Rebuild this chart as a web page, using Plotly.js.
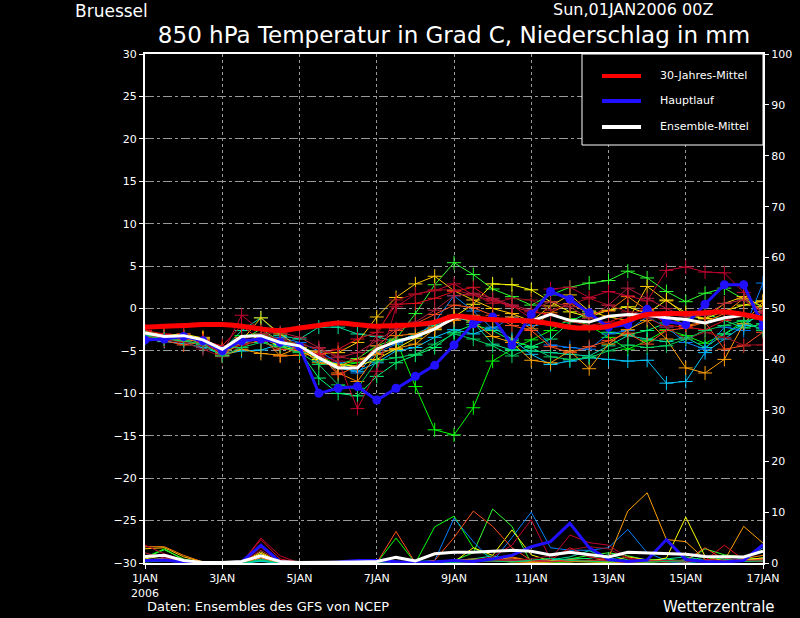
<!DOCTYPE html>
<html><head><meta charset="utf-8">
<script src="https://cdn.plot.ly/plotly-3.0.1.min.js"></script>
<style>html,body{margin:0;padding:0;background:#000;}#chart{width:800px;height:618px;}</style>
</head><body><div id="chart"></div>
<script>
// forecast steps: 1 JAN 2006 00Z + 12h steps (in days)
const steps = [0,0.5,1,1.5,2,2.5,3,3.5,4,4.5,5,5.5,6,6.5,7,7.5,8,8.5,9,9.5,10,10.5,11,11.5,12,12.5,13,13.5,14,14.5,15,15.5,16];
const tickVals = [0,2,4,6,8,10,12,14,16];
const tickText = ["1JAN<br>2006","3JAN","5JAN","7JAN","9JAN","11JAN","13JAN","15JAN","17JAN"];
const legendNames = ["30-Jahres-Mittel","Hauptlauf","Ensemble-Mittel"];
const legendColors = ["#ff0000","#2010ff","#ffffff"];

// 30-year climatology (temperature)
const climTemp = [-2.2,-2.1,-2.0,-1.9,-1.9,-2.1,-2.4,-2.6,-2.3,-2.0,-1.7,-1.9,-2.1,-2.0,-1.9,-1.6,-0.9,-1.1,-1.3,-1.4,-1.5,-1.8,-2.2,-2.3,-2.1,-1.4,-0.7,-0.6,-0.6,-0.5,-0.4,-0.7,-1.2];
// main run (Hauptlauf)
const mainTemp = [-3.7,-3.6,-3.3,-3.8,-5.0,-3.8,-3.6,-4.0,-4.5,-10.0,-9.4,-9.2,-10.8,-9.4,-8.0,-6.7,-4.3,-1.8,-1.0,-4.3,-0.7,2.0,1.1,-0.5,-2.2,-1.9,-0.1,-1.5,-1.9,0.5,2.8,2.8,-2.1];
const mainPrec = [0.5,0.6,0.2,0,0,0.2,3.5,0.2,0,0,0.2,0.5,0.5,0.3,0,0.2,0.5,0.3,0.8,1.5,3.2,4.2,7.8,3.0,0.7,0.3,0.6,4.6,0.7,0.3,0.2,0.5,3.6];
// ensemble mean
const meanTemp = [-2.9,-3.3,-3.2,-3.7,-4.8,-3.3,-3.2,-4.0,-4.4,-5.8,-7.0,-7.0,-4.8,-3.9,-3.3,-2.4,-1.1,-1.1,-1.3,-1.4,-1.5,-0.7,-1.4,-1.6,-0.9,-0.7,-0.8,-1.1,-1.3,-1.7,-1.1,-0.8,-1.1];
const meanPrec = [1.3,1.5,0.5,0.1,0.1,0.3,1.4,0.3,0.1,0.1,0.2,0.2,0.3,1.1,0.4,1.8,2.1,2.1,2.3,2.5,2.3,1.6,2.1,1.7,1.2,2.1,2.0,1.8,1.7,1.3,1.2,1.2,2.3];

// ensemble members
const memberColors = ["#00ff00","#30ff30","#00ff70","#00e0a0","#00c8ff","#0080ff","#ffff00","#ffc800","#ffa000","#ff8000","#ff5020","#e01020","#c00030","#a01020","#b02040","#00d060"];
const memberTemps = [
 [-2.9,-3.3,-3.6,-3.9,-5.3,-3.2,-3.0,-3.6,-4.4,-5.4,-6.8,-6.4,-4.9,-3.7,-9.2,-14.3,-14.9,-11.7,-6.2,-4.8,-3.7,-2.6,-1.2,-2.0,-3.4,-4.8,-3.8,-2.5,-3.2,-4.1,-3.0,-1.5,-1.0],
 [-2.7,-3.1,-3.4,-4.2,-5.5,-3.8,-2.4,-3.9,-4.6,-6.0,-6.6,-5.9,-4.4,-3.6,-0.6,2.8,5.4,4.0,2.3,1.4,0.4,1.6,2.5,3.0,3.3,4.4,3.6,2.0,0.8,1.8,2.4,1.1,0.2],
 [-3.2,-3.5,-3.9,-4.3,-5.5,-4.0,-3.6,-4.2,-5.0,-8.2,-10.0,-10.3,-8.0,-6.4,-5.5,-4.6,-2.8,-1.9,-2.6,-3.8,-4.5,-3.6,-1.6,-0.4,-2.8,-3.1,-2.6,-1.7,-1.2,-0.6,-1.4,-2.3,-1.8],
 [-3.0,-3.4,-3.3,-4.0,-5.0,-2.6,-1.1,-3.2,-3.6,-2.2,-2.2,-3.0,-3.3,-4.0,-3.0,-2.0,-1.0,-1.6,-4.2,-4.9,-5.0,-5.2,-5.4,-5.6,-4.4,-3.2,-3.6,-3.9,-3.4,-4.6,-3.0,-1.8,-2.4],
 [-3.5,-3.9,-4.1,-4.6,-5.4,-5.0,-4.9,-4.2,-4.8,-6.2,-7.0,-7.4,-6.4,-5.0,-4.6,-3.4,-2.5,-3.0,-2.2,-3.6,-5.4,-6.6,-6.2,-5.8,-6.0,-6.2,-6.1,-8.8,-8.6,-5.2,-3.6,-2.0,-0.4],
 [-3.4,-3.7,-3.5,-3.9,-5.1,-3.9,-3.7,-3.4,-4.0,-5.0,-6.4,-7.6,-5.2,-4.2,-3.3,-1.6,1.5,-0.3,-2.4,-1.0,-2.0,-4.3,-4.6,-4.8,-3.0,-2.6,-1.0,-2.2,-4.0,-4.8,-2.2,-2.6,3.0],
 [-3.0,-3.2,-3.0,-3.5,-4.8,-3.9,-3.4,-4.5,-5.0,-6.0,-6.6,-6.8,-6.0,-4.8,-3.5,-2.5,-1.0,0.5,2.9,2.8,2.2,0.8,-0.4,-1.0,-0.2,0.2,-0.6,1.0,-0.8,-1.2,-0.3,0.4,0.9],
 [-2.8,-3.1,-3.7,-3.4,-5.0,-3.8,-1.1,-3.0,-4.6,-5.3,-5.2,-4.0,-1.0,1.3,2.9,3.8,2.1,1.0,0.0,-0.6,-1.5,0.3,1.6,-0.3,-1.0,-1.4,2.6,0.9,-0.5,-1.2,0.6,1.4,0.2],
 [-3.3,-3.6,-3.2,-3.7,-5.6,-4.8,-5.3,-5.5,-4.6,-6.4,-6.8,-6.0,-5.4,-4.7,-4.2,-2.4,-0.8,-1.6,-3.3,-4.0,-6.1,-6.4,-5.0,-7.1,-4.2,-2.5,-1.4,-3.6,-7.0,-7.6,-6.0,-1.8,0.8],
 [-3.2,-3.5,-3.9,-3.6,-5.2,-3.4,-3.2,-5.6,-5.5,-5.0,-7.6,-8.6,-5.4,-3.2,-3.0,-2.2,-1.4,-0.8,-1.5,-1.0,-2.4,-0.5,0.6,-0.6,-0.3,1.4,-0.2,-0.8,-2.0,-1.6,-0.6,1.2,-0.4],
 [-3.0,-3.8,-4.3,-4.0,-5.3,-4.2,-3.9,-4.8,-4.9,-5.4,-7.8,-6.8,-4.4,-2.6,-1.8,-0.7,0.4,0.1,-0.8,-2.0,-2.6,-4.5,-5.2,-4.5,-3.8,-2.9,-4.2,-2.6,-2.3,-1.6,-4.8,-4.4,-2.8],
 [-2.6,-3.0,-3.4,-3.8,-4.4,-2.0,-3.8,-4.0,-4.8,-5.4,-4.8,-3.6,-2.8,0.5,0.6,1.2,2.0,2.5,1.0,0.2,-0.4,-0.7,-1.5,-2.0,-1.6,-0.8,0.0,-2.0,-2.2,-2.5,-1.4,-0.7,-1.2],
 [-3.1,-3.5,-3.0,-3.9,-5.4,-0.8,-2.6,-3.9,-4.4,-5.6,-6.2,-11.8,-7.4,0.2,1.7,2.1,2.9,1.6,0.9,0.4,-1.2,2.3,2.5,1.3,2.0,1.5,0.9,4.5,4.9,4.3,4.2,1.9,-0.6],
 [-3.3,-3.7,-4.0,-4.8,-5.7,-4.4,-3.2,-3.6,-4.2,-4.7,-5.6,-6.2,-3.2,1.0,1.7,2.2,2.2,1.6,0.6,1.2,1.0,-0.2,0.5,1.2,0.4,-0.4,-1.1,-2.2,-3.6,-2.8,-3.4,-4.3,-4.3],
 [-2.9,-3.2,-3.6,-4.4,-5.0,-3.6,-3.0,-2.8,-3.4,-4.6,-5.8,-5.2,-3.8,-2.4,-1.6,-0.2,1.5,1.8,1.2,0.4,-0.2,0.8,0.2,-1.2,0.4,2.4,1.2,0.0,-1.0,-0.8,0.6,1.0,-0.5],
 [-3.2,-3.6,-3.8,-4.2,-5.6,-4.6,-4.0,-4.5,-5.2,-6.6,-9.0,-9.4,-6.2,-5.8,-5.4,-4.2,-3.0,-3.6,-4.4,-5.6,-4.6,-5.7,-6.0,-5.8,-5.0,-4.3,-4.6,-4.4,-3.6,-2.6,-2.0,-1.4,-2.6]
];
const memberPrecs = [
 [1.1,2.8,0.6,0,0,0,0.7,0,0,0,0,0,0,4.9,0,7.1,9.2,3.0,1.0,0.5,0.2,0,0.2,0.5,0.3,0.2,0,0.4,0.3,0.6,1.5,0.8,0.5],
 [1.0,2.6,0.8,0,0,0,0.5,0,0,0,0,0,0,0.2,0,0.3,0.5,2.0,10.6,7.2,0,0.3,0.8,1.5,2.0,1.4,0.6,0.8,0.3,2.8,1.6,1.2,0.6],
 [0.6,0.8,0.3,0,0,0,0.4,0,0,0,0,0,0,0,0,0.2,0.4,0.6,0.8,0.4,0.2,0.5,0.8,0.9,1.6,0.6,0.2,0.4,0.6,0.3,0.2,0.4,0.8],
 [0.4,0.6,0.2,0,0,0,0.3,0,0,0,0,0,0,0.1,0,0.3,0.6,0.8,1.4,0.6,0.3,0.6,1.2,2.4,1.0,0.4,0.2,0.8,1.2,0.5,0.4,0.6,1.0],
 [0.3,0.5,0.2,0,0,0,0.4,0,0,0,0,0,0,0,0,0.1,0.2,0.6,0.4,0.3,0.5,0.8,0.6,0.4,0.2,0.3,0.5,0.2,0.1,0.3,0.2,0.4,0.3],
 [0.5,0.7,0.3,0,0,0,0.8,0,0,0,0,0,0,0,0.3,0.5,8.8,4.2,0.3,5.0,10.0,3.0,2.5,2.5,3.0,6.6,2.0,0.5,0.3,0.4,0.6,0.8,3.0],
 [0.8,1.5,0.4,0,0,0,1.9,0,0,0,0,0,0,0,0,0,0.2,3.0,1.5,6.5,1.6,0.4,0.3,0.2,0.1,0.3,0.2,1.0,9.0,1.3,0.4,0.6,1.0],
 [2.8,3.0,1.2,0.2,0,0,2.2,0,0,0,0,0,0,0,0,0,0.2,0.4,0.8,1.0,0.3,0.2,0.6,0.4,0.3,1.2,0.6,0.4,0.2,0.5,0.3,0.6,0.8],
 [0.6,0.9,0.3,0,0,0,1.0,0,0,0,0,0,0,0,0,0,0.1,0.3,0.5,0.2,0.1,0.2,0.4,0.3,1.0,10.2,13.8,4.6,4.2,0.7,0.5,7.2,3.9],
 [3.2,3.2,1.5,0.2,0,0,1.5,0,0,0,0,0,0,0.2,0,0.2,0.5,0.8,0.6,1.2,0.4,0.3,0.2,0.5,0.3,0.1,0.4,0.2,0.6,0.3,0.2,0.9,1.5],
 [0.4,0.8,0.3,0,0,0,1.2,0,0,0,0,0,0,6.2,0,0.5,5.0,10.2,7.2,3.0,0.5,0.3,0.6,0.4,0.3,0.2,0.4,0.3,0.5,3.0,0.6,0.3,0.8],
 [0.5,0.6,0.2,0,0,0,4.6,0.8,0,0,0,0,0,0,0,0,0.3,0.4,0.6,0.8,0.5,0.6,3.0,1.2,0.5,0.3,0.2,0.3,0.4,0.5,3.5,0.6,0.4],
 [3.5,1.8,0.6,0,0,0,4.9,1.4,0,0,0,0,0,0,0,0,0.2,0.5,1.2,3.5,8.5,0.7,5.5,4.0,3.5,1.0,0.4,0.3,0.2,0.6,1.0,0.3,0.5],
 [1.5,1.2,0.3,0,0,0,3.0,0.5,0,0,0,0,0,0,0,0,0.2,0.3,0.4,0.6,0.8,1.4,2.6,3.2,2.8,0.8,0.3,0.2,0.4,0.3,0.6,0.5,0.2],
 [2.0,1.0,0.2,0,0,0,2.5,0.3,0,0,0,0,0,0,0,0,0.1,0.2,0.3,0.5,0.4,0.3,0.4,0.6,0.4,0.2,0.3,0.5,0.4,0.2,0.3,0.4,0.6],
 [0.2,0.4,0.1,0,0,0,0.6,0,0,0,0,0,0,0,0,0,0.1,0.3,0.4,0.2,0.6,0.9,0.5,0.3,0.2,0.4,0.2,0.3,0.4,1.2,0.8,0.3,0.4]
];

const traces = [];
memberTemps.forEach((vals, k) => {
  traces.push({x: steps, y: vals, type:'scatter', mode:'lines+markers', yaxis:'y', showlegend:false, hoverinfo:'skip',
    line:{color: memberColors[k], width:1},
    marker:{symbol:'cross-thin', size:10, color: memberColors[k], line:{color: memberColors[k], width:1}}});
});
memberPrecs.forEach((vals, k) => {
  traces.push({x: steps, y: vals, type:'scatter', mode:'lines', yaxis:'y2', showlegend:false, hoverinfo:'skip',
    line:{color: memberColors[k], width:1}});
});
traces.push({x: steps, y: mainPrec, type:'scatter', mode:'lines', yaxis:'y2', showlegend:false, line:{color:legendColors[1], width:3}});
traces.push({x: steps, y: meanPrec, type:'scatter', mode:'lines', yaxis:'y2', showlegend:false, line:{color:legendColors[2], width:3}});
traces.push({x: steps, y: mainTemp, type:'scatter', mode:'lines+markers', yaxis:'y', name:legendNames[1], showlegend:false,
  line:{color:legendColors[1], width:3}, marker:{symbol:'circle', size:9, color:legendColors[1]}});
traces.push({x: steps, y: meanTemp, type:'scatter', mode:'lines', yaxis:'y', name:legendNames[2], showlegend:false,
  line:{color:legendColors[2], width:3}});
traces.push({x: steps, y: climTemp, type:'scatter', mode:'lines', yaxis:'y', name:legendNames[0], showlegend:false,
  line:{color:legendColors[0], width:5, shape:'spline'}});

// legend box (drawn in paper coordinates)
const shapes = [{type:'rect', xref:'paper', yref:'paper', x0:0.7071, x1:1.0, y0:0.8212, y1:1.0,
  fillcolor:'#000', line:{color:'#fff', width:1}, layer:'above'}];
const legY = [0.9568, 0.9077, 0.8566];
const fnt = 'DejaVu Sans, sans-serif';
const annotations = [
  {text:'Bruessel', xref:'paper', yref:'paper', x:-0.117, y:1.085, xanchor:'left', yanchor:'middle', showarrow:false,
    font:{family:fnt, size:17, color:'#fff'}},
  {text:'Sun,01JAN2006 00Z', xref:'paper', yref:'paper', x:0.79, y:1.0875, xanchor:'center', yanchor:'middle', showarrow:false,
    font:{family:fnt, size:16, color:'#fff'}},
  {text:'Daten: Ensembles des GFS von NCEP', xref:'paper', yref:'paper', x:0.0, y:-0.086, xanchor:'left', yanchor:'middle', showarrow:false,
    font:{family:fnt, size:13, color:'#fff'}},
  {text:'Wetterzentrale', xref:'paper', yref:'paper', x:1.022, y:-0.086, xanchor:'right', yanchor:'middle', showarrow:false,
    font:{family:fnt, size:15, color:'#fff'}}
];
legendNames.forEach((nm, k) => {
  shapes.push({type:'line', xref:'paper', yref:'paper', x0:0.7395, x1:0.8026, y0:legY[k], y1:legY[k],
    line:{color:legendColors[k], width:4}, layer:'above'});
  annotations.push({text:nm, xref:'paper', yref:'paper', x:0.8301, y:legY[k], xanchor:'left', yanchor:'middle', showarrow:false,
    font:{family:fnt, size:11, color:'#fff'}});
});

const layout = {
  width:800, height:618,
  paper_bgcolor:'#000', plot_bgcolor:'#000',
  margin:{l:145, r:37, t:54, b:55},
  font:{family:fnt, color:'#fff', size:11},
  title:{text:'850 hPa Temperatur in Grad C, Niederschlag in mm', x:0.5, xref:'paper', xanchor:'center',
    y:0.944, yref:'container', yanchor:'middle', font:{family:fnt, size:23, color:'#fff'}},
  showlegend:false,
  xaxis:{range:[0,16], tickvals:tickVals, ticktext:tickText, showgrid:true, gridcolor:'#9a9a9a', griddash:'dot', gridwidth:1,
    zeroline:false, showline:true, linecolor:'#fff', linewidth:2, mirror:true, ticks:'outside', tickcolor:'#fff', ticklen:4,
    tickfont:{family:fnt, size:11, color:'#fff'}},
  yaxis:{range:[-30,30], tick0:-30, dtick:5, showgrid:true, gridcolor:'#9a9a9a', griddash:'dashdot', gridwidth:1,
    zeroline:false, showline:true, linecolor:'#fff', linewidth:2, ticks:'outside', tickcolor:'#fff', ticklen:4,
    tickfont:{family:fnt, size:11, color:'#fff'}},
  yaxis2:{range:[0,100], tick0:0, dtick:10, overlaying:'y', side:'right', showgrid:false, zeroline:false,
    showline:true, linecolor:'#fff', linewidth:2, ticks:'outside', tickcolor:'#fff', ticklen:4,
    tickfont:{family:fnt, size:11, color:'#fff'}},
  shapes: shapes,
  annotations: annotations
};
Plotly.newPlot('chart', traces, layout, {displayModeBar:false, staticPlot:true});
</script></body></html>
